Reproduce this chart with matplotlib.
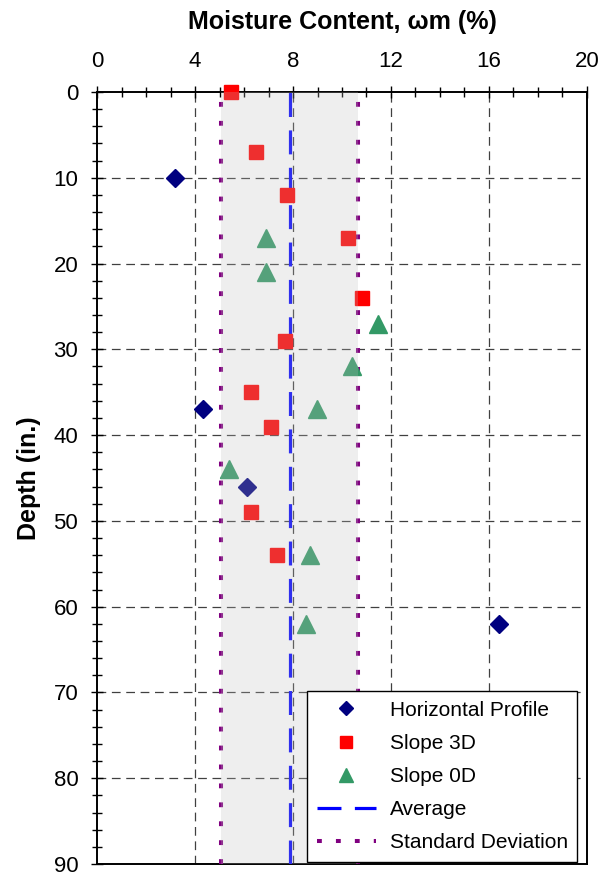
import matplotlib
matplotlib.use("Agg")
import matplotlib.pyplot as plt
from matplotlib.ticker import MultipleLocator
from matplotlib.lines import Line2D

plt.rcParams['font.family'] = ['Liberation Sans', 'DejaVu Sans']

# Data
hp_x = [3.18, 4.34, 6.11, 16.4]
hp_y = [10, 37, 46, 62]

s3_x = [5.47, 6.49, 7.74, 10.26, 10.8, 7.67, 6.29, 7.09, 6.29, 7.33]
s3_y = [0, 7, 12, 17, 24, 29, 35, 39, 49, 54]

s0_x = [6.9, 6.9, 11.48, 10.42, 8.97, 5.39, 8.69, 8.53]
s0_y = [17, 21, 27, 32, 37, 44, 54, 62]

avg = 7.86
sd = 2.81

x_ticks = [0, 4, 8, 12, 16, 20]
y_ticks = [0, 10, 20, 30, 40, 50, 60, 70, 80, 90]

fig = plt.figure(figsize=(6.0, 8.76), dpi=100)
ax = fig.add_axes([0.1617, 0.0137, 0.8166, 0.8813])

ax.set_xlim(0, 20)
ax.set_ylim(90, 0)
ax.set_xticks(x_ticks)
ax.set_yticks(y_ticks)
ax.xaxis.set_minor_locator(MultipleLocator(1))
ax.yaxis.set_minor_locator(MultipleLocator(2))
ax.xaxis.tick_top()
ax.xaxis.set_label_position('top')
ax.tick_params(axis='both', which='major', direction='inout', length=9, width=1.0,
               labelsize=16, colors='black')
ax.tick_params(axis='both', which='minor', direction='inout', length=7, width=1.0)
ax.tick_params(axis='x', which='both', top=True, bottom=False, pad=10)
ax.tick_params(axis='y', which='both', left=True, right=False, pad=9)
for s in ax.spines.values():
    s.set_linewidth(1.4)
    s.set_color('black')

ax.set_xlabel('Moisture Content, ωm (%)', fontsize=18, fontweight='bold', labelpad=16)
ax.set_ylabel('Depth (in.)', fontsize=18, fontweight='bold', labelpad=9)

# grid
for xv in x_ticks[1:-1]:
    ax.axvline(xv, color='#404040', lw=0.9, dashes=(7, 4.5), zorder=1)
for yv in y_ticks[1:-1]:
    ax.axhline(yv, color='#404040', lw=0.9, dashes=(7, 4.5), zorder=1)

# markers
ax.plot(hp_x, hp_y, linestyle='none', marker='D', markersize=9.3, color='#000080',
        markeredgecolor='#000080', zorder=4, clip_on=False)
ax.plot(s3_x, s3_y, linestyle='none', marker='s', markersize=9.4, color='#FF0000',
        markeredgecolor='#FF0000', zorder=4, clip_on=False)
ax.plot(s0_x, s0_y, linestyle='none', marker='^', markersize=13.5, color='#339966',
        markeredgecolor='#339966', zorder=4, clip_on=False)

# average and std lines
ax.axvline(avg, color='#0000FF', lw=2.3, dashes=(7.5, 4.2), zorder=3)
ax.axvline(avg - sd, color='#800080', lw=2.9, dashes=(1.2, 3.5), zorder=3)
ax.axvline(avg + sd, color='#800080', lw=2.9, dashes=(1.2, 3.5), zorder=3)

# band overlay
ax.axvspan(avg - sd, avg + sd, facecolor='#bcbcbc', alpha=0.25, edgecolor='none', zorder=5)

handles = [
    Line2D([], [], linestyle='none', marker='D', markersize=7, color='#000080'),
    Line2D([], [], linestyle='none', marker='s', markersize=9, color='#FF0000'),
    Line2D([], [], linestyle='none', marker='^', markersize=10, color='#339966'),
    Line2D([], [], color='#0000FF', lw=2.3, dashes=(7.5, 4.2)),
    Line2D([], [], color='#800080', lw=2.9, dashes=(1.2, 3.5)),
]
labels = ['Horizontal Profile', 'Slope 3D', 'Slope 0D', 'Average', 'Standard Deviation']
leg = ax.legend(handles, labels, loc='lower right', bbox_to_anchor=(0.98, 0.003),
                borderaxespad=0, fontsize=15, frameon=True, fancybox=False,
                edgecolor='black', framealpha=1, handlelength=2.85, handletextpad=0.65,
                labelspacing=0.68, borderpad=0.45)
leg.get_frame().set_linewidth(1.0)
leg.set_zorder(6)

fig.savefig('out.png', dpi=100)
